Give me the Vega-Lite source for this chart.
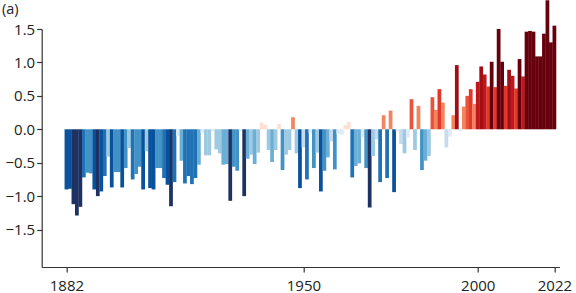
{
  "$schema": "https://vega.github.io/schema/vega-lite/v6.json",
  "width": 517.7,
  "height": 238,
  "autosize": {"type": "none"},
  "padding": {"left": 41.7, "top": 29, "right": 16.6, "bottom": 26},
  "background": "white",
  "title": {"text": "(a)", "anchor": "start", "frame": "group", "dx": -39.7, "offset": -28.5, "baseline": "alphabetic", "fontSize": 14.5, "fontWeight": "normal", "font": "Open Sans", "color": "#222222"},
  "config": {"view": {"stroke": null}},
  "data": {"values": [
    {"year": 1882, "anomaly": -0.90}, {"year": 1883, "anomaly": -0.89}, {"year": 1884, "anomaly": -1.12}, {"year": 1885, "anomaly": -1.29},
    {"year": 1886, "anomaly": -1.16}, {"year": 1887, "anomaly": -0.72}, {"year": 1888, "anomaly": -0.65}, {"year": 1889, "anomaly": -0.66},
    {"year": 1890, "anomaly": -0.90}, {"year": 1891, "anomaly": -1.00}, {"year": 1892, "anomaly": -0.93}, {"year": 1893, "anomaly": -0.70},
    {"year": 1894, "anomaly": -0.41}, {"year": 1895, "anomaly": -0.87}, {"year": 1896, "anomaly": -0.64}, {"year": 1897, "anomaly": -0.64},
    {"year": 1898, "anomaly": -0.87}, {"year": 1899, "anomaly": -0.58}, {"year": 1900, "anomaly": -0.28}, {"year": 1901, "anomaly": -0.75},
    {"year": 1902, "anomaly": -0.67}, {"year": 1903, "anomaly": -0.56}, {"year": 1904, "anomaly": -0.90}, {"year": 1905, "anomaly": -0.33},
    {"year": 1906, "anomaly": -0.88}, {"year": 1907, "anomaly": -0.90}, {"year": 1908, "anomaly": -0.58}, {"year": 1909, "anomaly": -0.58},
    {"year": 1910, "anomaly": -0.73}, {"year": 1911, "anomaly": -0.83}, {"year": 1912, "anomaly": -1.15}, {"year": 1913, "anomaly": -0.79},
    {"year": 1914, "anomaly": -0.10}, {"year": 1915, "anomaly": -0.47}, {"year": 1916, "anomaly": -0.81}, {"year": 1917, "anomaly": -0.70},
    {"year": 1918, "anomaly": -0.82}, {"year": 1919, "anomaly": -0.73}, {"year": 1920, "anomaly": -0.53}, {"year": 1921, "anomaly": -0.05},
    {"year": 1922, "anomaly": -0.39}, {"year": 1923, "anomaly": -0.39}, {"year": 1924, "anomaly": -0.03}, {"year": 1925, "anomaly": -0.30},
    {"year": 1926, "anomaly": -0.36}, {"year": 1927, "anomaly": -0.53}, {"year": 1928, "anomaly": -0.52}, {"year": 1929, "anomaly": -1.07},
    {"year": 1930, "anomaly": -0.56}, {"year": 1931, "anomaly": -0.62}, {"year": 1932, "anomaly": -0.03}, {"year": 1933, "anomaly": -1.00},
    {"year": 1934, "anomaly": -0.44}, {"year": 1935, "anomaly": -0.38}, {"year": 1936, "anomaly": -0.52}, {"year": 1937, "anomaly": -0.35},
    {"year": 1938, "anomaly": 0.10}, {"year": 1939, "anomaly": 0.07}, {"year": 1940, "anomaly": -0.31}, {"year": 1941, "anomaly": -0.49},
    {"year": 1942, "anomaly": -0.31}, {"year": 1943, "anomaly": 0.08}, {"year": 1944, "anomaly": -0.61}, {"year": 1945, "anomaly": -0.38},
    {"year": 1946, "anomaly": -0.31}, {"year": 1947, "anomaly": 0.18}, {"year": 1948, "anomaly": -0.36}, {"year": 1949, "anomaly": -0.88},
    {"year": 1950, "anomaly": -0.27}, {"year": 1951, "anomaly": -0.75}, {"year": 1952, "anomaly": -0.06}, {"year": 1953, "anomaly": -0.58},
    {"year": 1954, "anomaly": -0.35}, {"year": 1955, "anomaly": -0.93}, {"year": 1956, "anomaly": -0.62}, {"year": 1957, "anomaly": -0.42},
    {"year": 1958, "anomaly": -0.18}, {"year": 1959, "anomaly": -0.60}, {"year": 1960, "anomaly": -0.07}, {"year": 1961, "anomaly": -0.08},
    {"year": 1962, "anomaly": 0.06}, {"year": 1963, "anomaly": 0.11}, {"year": 1964, "anomaly": -0.72}, {"year": 1965, "anomaly": -0.55},
    {"year": 1966, "anomaly": -0.51}, {"year": 1967, "anomaly": -0.12}, {"year": 1968, "anomaly": -0.58}, {"year": 1969, "anomaly": -1.17},
    {"year": 1970, "anomaly": -0.40}, {"year": 1971, "anomaly": -0.15}, {"year": 1972, "anomaly": -0.79}, {"year": 1973, "anomaly": 0.21},
    {"year": 1974, "anomaly": -0.73}, {"year": 1975, "anomaly": 0.28}, {"year": 1976, "anomaly": -0.94}, {"year": 1977, "anomaly": -0.03},
    {"year": 1978, "anomaly": -0.22}, {"year": 1979, "anomaly": -0.36}, {"year": 1980, "anomaly": -0.12}, {"year": 1981, "anomaly": 0.45},
    {"year": 1982, "anomaly": -0.31}, {"year": 1983, "anomaly": 0.35}, {"year": 1984, "anomaly": -0.61}, {"year": 1985, "anomaly": -0.47},
    {"year": 1986, "anomaly": -0.40}, {"year": 1987, "anomaly": 0.48}, {"year": 1988, "anomaly": 0.29}, {"year": 1989, "anomaly": 0.60},
    {"year": 1990, "anomaly": 0.40}, {"year": 1991, "anomaly": -0.27}, {"year": 1992, "anomaly": -0.11}, {"year": 1993, "anomaly": 0.21},
    {"year": 1994, "anomaly": 0.96}, {"year": 1995, "anomaly": -0.03}, {"year": 1996, "anomaly": 0.34}, {"year": 1997, "anomaly": 0.50},
    {"year": 1998, "anomaly": 0.60}, {"year": 1999, "anomaly": 0.38}, {"year": 2000, "anomaly": 0.71}, {"year": 2001, "anomaly": 0.94},
    {"year": 2002, "anomaly": 0.82}, {"year": 2003, "anomaly": 0.64}, {"year": 2004, "anomaly": 1.01}, {"year": 2005, "anomaly": 0.63},
    {"year": 2006, "anomaly": 1.50}, {"year": 2007, "anomaly": 1.01}, {"year": 2008, "anomaly": 0.65}, {"year": 2009, "anomaly": 0.89},
    {"year": 2010, "anomaly": 0.80}, {"year": 2011, "anomaly": 0.61}, {"year": 2012, "anomaly": 1.05}, {"year": 2013, "anomaly": 0.79},
    {"year": 2014, "anomaly": 1.46}, {"year": 2015, "anomaly": 1.47}, {"year": 2016, "anomaly": 1.46}, {"year": 2017, "anomaly": 1.09},
    {"year": 2018, "anomaly": 1.09}, {"year": 2019, "anomaly": 1.43}, {"year": 2020, "anomaly": 1.93}, {"year": 2021, "anomaly": 1.30},
    {"year": 2022, "anomaly": 1.55}
  ]},
  "mark": {"type": "bar", "orient": "vertical", "width": 3.75, "clip": false},
  "encoding": {
    "x": {
      "field": "year", "type": "quantitative",
      "scale": {"domain": [1876.34, 2022], "nice": false, "zero": false},
      "axis": {
        "title": null, "values": [1882, 1950, 2000, 2022], "format": "d", "grid": false,
        "domainColor": "#333333", "tickColor": "#333333", "tickSize": 5, "domainWidth": 1.2, "tickWidth": 1.2,
        "labelFont": "Open Sans", "labelFontSize": 15, "labelColor": "#222222", "labelPadding": 6, "labelFlush": false
      }
    },
    "y": {
      "field": "anomaly", "type": "quantitative",
      "scale": {"domain": [-2.06, 1.5], "nice": false},
      "axis": {
        "title": null, "values": [-1.5, -1.0, -0.5, 0.0, 0.5, 1.0, 1.5], "format": ".1f", "grid": false,
        "domainColor": "#333333", "tickColor": "#333333", "tickSize": 5, "domainWidth": 1.2, "tickWidth": 1.2,
        "labelFont": "Open Sans", "labelFontSize": 15, "labelColor": "#222222", "labelPadding": 2
      }
    },
    "color": {
      "field": "anomaly", "type": "quantitative", "legend": null,
      "scale": {
        "type": "threshold",
        "domain": [-0.9625, -0.825, -0.6875, -0.55, -0.4125, -0.275, -0.1375, 0, 0.12, 0.16, 0.42, 0.55, 0.6875, 0.825, 0.9625],
        "range": ["#1d3163", "#08519c", "#2171b5", "#4292c6", "#6baed6", "#9ecae1", "#c6dbef", "#deebf7", "#fee0d2", "#fcbba1", "#f4845f", "#e8533a", "#e0392b", "#c0171d", "#a00f16", "#67000d"]
      }
    }
  }
}
